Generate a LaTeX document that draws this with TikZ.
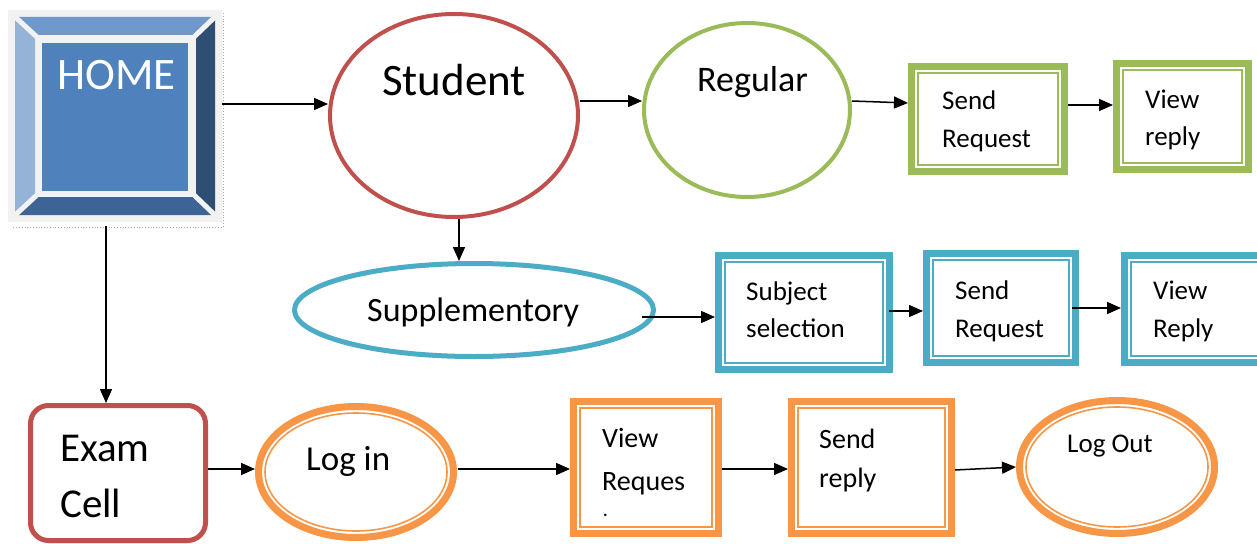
\documentclass[tikz,border=0pt]{standalone}
\usepackage{fontspec}
\setmainfont{Carlito}
\usetikzlibrary{shapes.geometric,arrows.meta}
\definecolor{cred}{HTML}{C0504D}
\definecolor{cgreen}{HTML}{9BBB59}
\definecolor{cblue}{HTML}{4BACC6}
\definecolor{corange}{HTML}{F79646}
\definecolor{cbg}{HTML}{F2F2F2}
\definecolor{btop}{HTML}{7099CB}
\definecolor{bleft}{HTML}{95B3D7}
\definecolor{bright}{HTML}{2F4E74}
\definecolor{bbottom}{HTML}{3E6497}
\definecolor{bcenter}{HTML}{4F81BD}
\tikzset{
  arr/.style={line width=1.5pt,-{Triangle[length=14pt,width=12pt]}},
  ell/.style={ellipse,inner sep=0pt},
  dbox/.style={rectangle,inner sep=0pt,line width=7pt},
  inner/.style={line width=1.6pt},
  lbl/.style={anchor=base west,inner sep=0pt,text=black},
  bx/.style={lbl,font=\fontsize{27}{30}\selectfont},
  ox/.style={lbl,font=\fontsize{28}{30}\selectfont},
}
\begin{document}
\begin{tikzpicture}[x=1pt,y=-1pt]
\useasboundingbox (0,0) rectangle (1257,543);
\clip (0,0) rectangle (1257,543);
\fill[white] (0,0) rectangle (1257,543);

% HOME bevel button
\node[rectangle,fill=cbg,inner sep=0pt,outer sep=0pt,minimum width=214pt,minimum height=212pt] (home) at (115,116) {};
\draw[gray!70,dotted,line width=0.8pt] (223,13) -- (223,227) -- (12,227);
\fill[btop] (15,17) -- (215,17) -- (196,35) -- (35,35) -- cycle;
\fill[bleft] (15,17) -- (35,35) -- (35,197) -- (15,215) -- cycle;
\fill[bright] (215,17) -- (215,215) -- (196,197) -- (196,35) -- cycle;
\fill[bbottom] (15,215) -- (215,215) -- (196,197) -- (35,197) -- cycle;
\draw[cbg,line width=5pt] (12,14) -- (38,38) (218,14) -- (193,38) (12,218) -- (38,194) (218,218) -- (193,194);
\fill[bcenter] (42,43) rectangle (188,191);
\node[lbl,text=white,font=\fontsize{45}{50}\selectfont] (thome) at (57,89) {HOME};

% Student
\node[ell,draw=cred,line width=4pt,minimum width=248pt,minimum height=203pt] (student) at (454,115.5) {};
\node[lbl,font=\fontsize{45}{50}\selectfont] (tstudent) at (382,95) {Student};

% Regular
\node[ell,draw=cgreen,line width=4pt,minimum width=206pt,minimum height=174pt] (regular) at (747,110) {};
\node[lbl,font=\fontsize{36}{40}\selectfont] (tregular) at (697,92) {Regular};

% Green boxes
\node[dbox,draw=cgreen,minimum width=153pt,minimum height=105pt] (sr1) at (988,119) {};
\draw[cgreen,inner] ([shift={(10,10)}]sr1.north west) rectangle ([shift={(-10,-10)}]sr1.south east);
\node[bx] (tsr1a) at (942,109) {Send};
\node[bx] (tsr1b) at (942,147) {Request};

\node[dbox,draw=cgreen,minimum width=132pt,minimum height=106pt] (vr1) at (1182.5,116.5) {};
\draw[cgreen,inner] ([shift={(10,10)}]vr1.north west) rectangle ([shift={(-10,-10)}]vr1.south east);
\node[bx] (tvr1a) at (1145,108) {View};
\node[bx] (tvr1b) at (1145,145) {reply};

% Supplementory
\node[ell,draw=cblue,line width=5pt,minimum width=359pt,minimum height=93pt] (supp) at (474,310) {};
\node[lbl,font=\fontsize{34}{38}\selectfont] (tsupp) at (367,321) {Supplementory};

% Blue boxes
\node[dbox,draw=cblue,minimum width=171pt,minimum height=114pt] (sub) at (804,312.5) {};
\draw[cblue,inner] ([shift={(10,10)}]sub.north west) rectangle ([shift={(-10,-10)}]sub.south east);
\node[bx] (tsuba) at (746,300) {Subject};
\node[bx] (tsubb) at (746,337) {selection};

\node[dbox,draw=cblue,minimum width=149pt,minimum height=109pt] (sr2) at (1001,308) {};
\draw[cblue,inner] ([shift={(10,10)}]sr2.north west) rectangle ([shift={(-10,-10)}]sr2.south east);
\node[bx] (tsr2a) at (955,299) {Send};
\node[bx] (tsr2b) at (955,337) {Request};

\node[dbox,draw=cblue,minimum width=142pt,minimum height=107pt] (vr2) at (1195.5,309) {};
\draw[cblue,inner] ([shift={(10,10)}]vr2.north west) rectangle ([shift={(-10,-10)}]vr2.south east);
\node[bx] (tvr2a) at (1153,299) {View};
\node[bx] (tvr2b) at (1153,337) {Reply};

% Exam Cell
\node[rectangle,rounded corners=18pt,draw=cred,line width=5pt,inner sep=0pt,minimum width=175pt,minimum height=135pt] (exam) at (118,473) {};
\node[lbl,font=\fontsize{41}{45}\selectfont] (texama) at (60,461) {Exam};
\node[lbl,font=\fontsize{41}{45}\selectfont] (texamb) at (60,517) {Cell};

% Log in
\node[ell,draw=corange,line width=7pt,minimum width=195pt,minimum height=131pt] (login) at (356,472) {};
\draw[corange,inner] (login.center) ellipse [x radius=91pt,y radius=59pt];
\node[lbl,font=\fontsize{35}{40}\selectfont] (tlogin) at (306,470) {Log in};

% Orange boxes
\node[dbox,draw=corange,minimum width=145pt,minimum height=132pt] (vrq) at (646,467.5) {};
\draw[corange,inner] ([shift={(10,10)}]vrq.north west) rectangle ([shift={(-10,-10)}]vrq.south east);
\node[ox] (tvrqa) at (602,447) {View};
\node[ox] (tvrqb) at (602,490) {Reques};
\node[lbl,font=\fontsize{17}{18}\selectfont\bfseries] (tvrqc) at (603,516) {.};

\node[dbox,draw=corange,minimum width=160pt,minimum height=132pt] (srp) at (871.5,467.5) {};
\draw[corange,inner] ([shift={(10,10)}]srp.north west) rectangle ([shift={(-10,-10)}]srp.south east);
\node[ox] (tsrpa) at (819,448) {Send};
\node[ox] (tsrpb) at (819,487) {reply};

% Log Out
\node[ell,draw=corange,line width=7pt,minimum width=195pt,minimum height=133pt] (logout) at (1117,467) {};
\draw[corange,inner] (logout.center) ellipse [x radius=91pt,y radius=60pt];
\node[lbl,font=\fontsize{27}{30}\selectfont] (tlogout) at (1067,452) {Log Out};

% Connectors
\draw[arr] (home.east |- 0,104) -- (student.west |- 0,104);
\draw[arr] (student.east |- 0,101) -- (regular.west |- 0,101);
\draw[arr] (regular.east |- 0,101) -- (sr1.west |- 0,103);
\draw[arr] (sr1.east |- 0,105) -- (vr1.west |- 0,105);
\draw[arr] (student.south -| 459,0) -- (supp.north -| 459,0);
\draw[arr] ([xshift=-14pt,yshift=-7pt]supp.east) -- (sub.west |- 0,317);
\draw[arr] ([xshift=-4pt]sub.east |- 0,311) -- (sr2.west |- 0,311);
\draw[arr] ([xshift=-7pt]sr2.east |- 0,308) -- (vr2.west |- 0,308);
\draw[arr] ([yshift=-4pt]home.south -| 106,0) -- (exam.north -| 106,0);
\draw[arr] (exam.east |- 0,469) -- (login.west |- 0,469);
\draw[arr] ([xshift=1pt]login.east |- 0,469) -- (vrq.west |- 0,469);
\draw[arr] (vrq.east |- 0,469) -- (srp.west |- 0,469);
\draw[arr] (srp.east |- 0,470) -- (logout.west);
\end{tikzpicture}
\end{document}
